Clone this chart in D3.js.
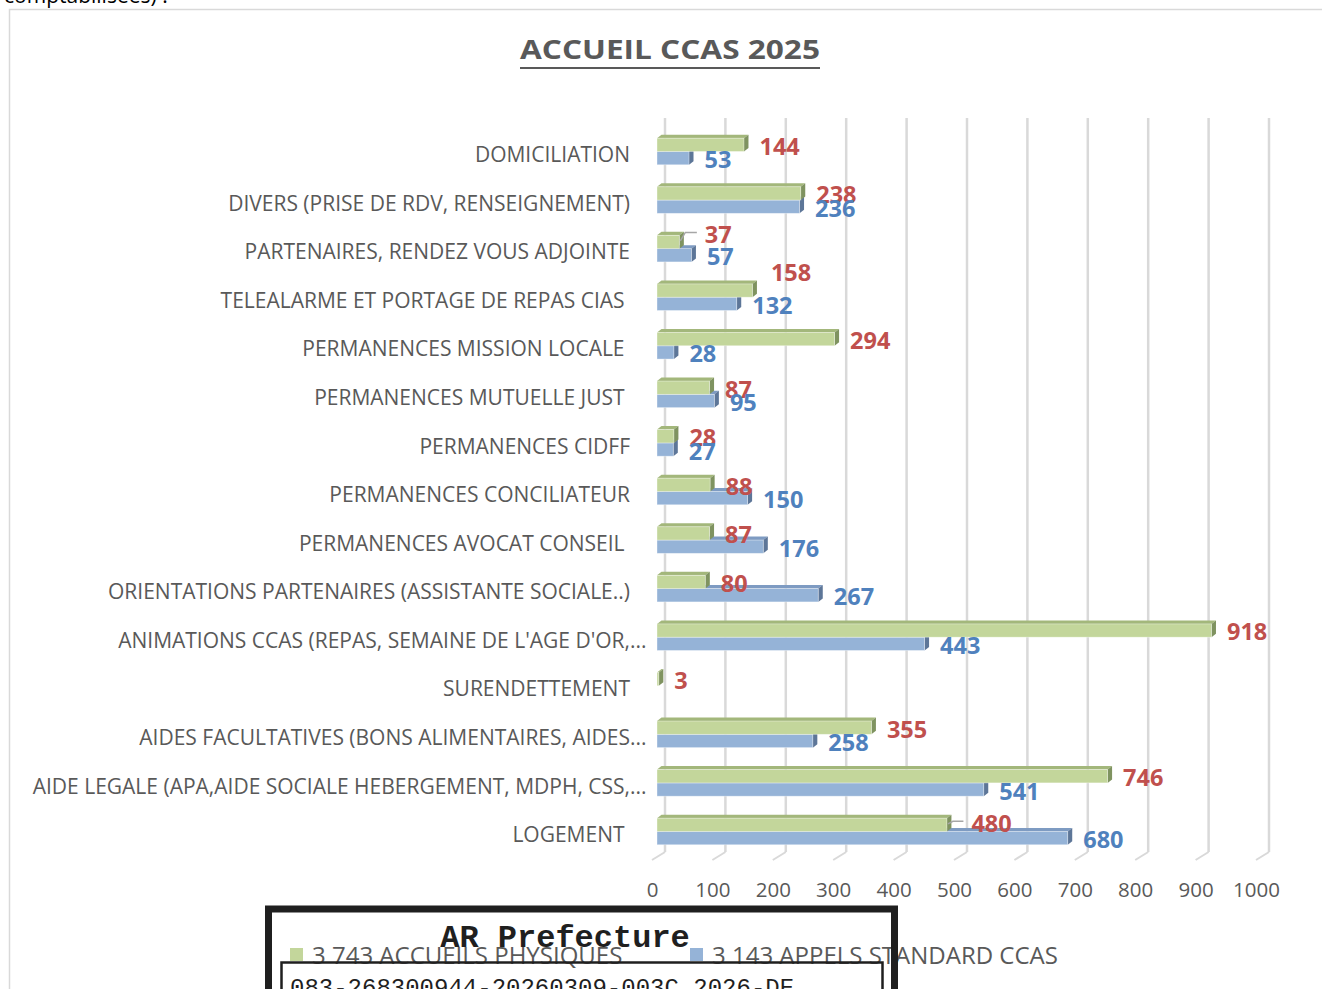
<!DOCTYPE html>
<html>
<head>
<meta charset="utf-8">
<script src="https://cdn.jsdelivr.net/npm/d3@7"></script>
<style>
  html, body { margin: 0; padding: 0; background: #fff; }
  svg { display: block; }
  text { font-family: "Open Sans", Lato, "Liberation Sans", sans-serif; }
</style>
</head>
<body>
<svg id="chart" width="1322" height="989"></svg>
<script>
// ---------------- DATA ----------------
const categories = [
  "DOMICILIATION",
  "DIVERS (PRISE DE RDV, RENSEIGNEMENT)",
  "PARTENAIRES, RENDEZ VOUS ADJOINTE",
  "TELEALARME ET PORTAGE DE REPAS CIAS ",
  "PERMANENCES MISSION LOCALE ",
  "PERMANENCES MUTUELLE JUST ",
  "PERMANENCES CIDFF",
  "PERMANENCES CONCILIATEUR",
  "PERMANENCES AVOCAT CONSEIL ",
  "ORIENTATIONS PARTENAIRES (ASSISTANTE SOCIALE..)",
  "ANIMATIONS CCAS (REPAS, SEMAINE DE L'AGE D'OR,...",
  "SURENDETTEMENT",
  "AIDES FACULTATIVES (BONS ALIMENTAIRES, AIDES...",
  "AIDE LEGALE (APA,AIDE SOCIALE HEBERGEMENT, MDPH, CSS,...",
  "LOGEMENT "
];
const accueilsPhysiques = [144, 238, 37, 158, 294, 87, 28, 88, 87, 80, 918, 3, 355, 746, 480];
const appelsStandard    = [53, 236, 57, 132, 28, 95, 27, 150, 176, 267, 443, null, 258, 541, 680];
const seriesNames = ["3 743 ACCUEILS PHYSIQUES", "3 143 APPELS STANDARD CCAS"];
const xTicks = [0, 100, 200, 300, 400, 500, 600, 700, 800, 900, 1000];
const chartTitle = "ACCUEIL CCAS 2025";

// ---------------- LAYOUT / STYLE ----------------
const svg = d3.select("#chart");
const grey = "#595959";
const gridCol = "#d9d9d9";
const font = "'Open Sans', Lato, sans-serif";
const catFont = 21;
const styles = [
  { front: "#C3D69B", top: "#A3B77B", side: "#7F9360", label: "#C0504D" },
  { front: "#95B3D7", top: "#7E9BC2", side: "#5D7698", label: "#4F81BD" }
];
// manual label nudges (as placed in the original), keyed by series-index/category-index
const labelNudges = { "0-2": { dx: 10, dy: -9, leader: true },
                      "0-3": { dx: 3, dy: -20, leader: false },
                      "0-14": { dx: 9, dy: -3, leader: true } };

const xFront = d3.scaleLinear().domain([0, 1000]).range([657, 1261]);
const xBack  = d3.scaleLinear().domain([0, 1000]).range([665, 1269]);
const xFloor = d3.scaleLinear().domain([0, 1000]).range([652, 1256]);
const pitch = 48.57;
const y = d3.scaleBand().domain(categories).range([127.2, 127.2 + categories.length * pitch]).padding(0);
const barH = 13.3, dX = 4.5, dY = 3.5;

// top clipped text from surrounding document
svg.append("text").attr("x", 4).attr("y", 3).attr("font-size", 21)
  .attr("fill", "#000").style("font-family", font).text("comptabilisées) :");

// chart frame
svg.append("rect").attr("x", 9.5).attr("y", 9.5).attr("width", 1340).attr("height", 1000)
  .attr("fill", "#fff").attr("stroke", "#d9d9d9").attr("stroke-width", 1.5);

// title
svg.append("text").attr("x", 670).attr("y", 59).attr("text-anchor", "middle")
  .attr("font-size", 27).attr("font-weight", "bold").attr("fill", grey)
  .attr("textLength", 300).attr("lengthAdjust", "spacingAndGlyphs").text(chartTitle);
svg.append("line").attr("x1", 520).attr("x2", 820).attr("y1", 68).attr("y2", 68)
  .attr("stroke", grey).attr("stroke-width", 2.2);

// back-wall gridlines
svg.append("g").selectAll("line").data(xTicks).join("line")
  .attr("x1", d => xBack(d)).attr("x2", d => xBack(d)).attr("y1", 118).attr("y2", 852)
  .attr("stroke", gridCol).attr("stroke-width", 2.5);
// floor ticks
svg.append("g").selectAll("line").data(xTicks).join("line")
  .attr("x1", d => xFloor(d)).attr("y1", 860).attr("x2", d => xBack(d)).attr("y2", 852)
  .attr("stroke", gridCol).attr("stroke-width", 2);

// x axis labels
const xAxis = svg.append("g").attr("transform", "translate(0,890)")
  .call(d3.axisBottom(xFloor).tickValues(xTicks).tickSize(0).tickPadding(0).tickFormat(d3.format("d")));
xAxis.select(".domain").remove();
xAxis.selectAll("text").attr("y", 0).attr("dy", "0.36em").attr("font-size", 20.5)
  .attr("fill", grey).style("font-family", font);

// y axis labels
const yAxis = svg.append("g").attr("transform", "translate(630,4)")
  .call(d3.axisLeft(y).tickSize(0).tickPadding(0));
yAxis.select(".domain").remove();
yAxis.selectAll("text").attr("font-size", catFont).attr("fill", grey)
  .attr("xml:space", "preserve").style("white-space", "pre")
  .style("font-family", font)
  .attr("x", function (d) {
    if (d.endsWith("...")) {
      const tmp = svg.append("text").attr("font-size", catFont).style("font-family", font).text("...");
      const w = tmp.node().getComputedTextLength(); tmp.remove();
      return w;
    }
    return 0;
  });

// bars
const seriesData = [accueilsPhysiques, appelsStandard];
const barsG = svg.append("g");
function barPaths(v, yTop) {
  const x0 = xFront(0), x1 = xFront(v);
  return {
    top: [[x0, yTop], [x1, yTop], [x1 + dX, yTop - dY], [x0 + dX, yTop - dY]],
    side: [[x1, yTop], [x1 + dX, yTop - dY], [x1 + dX, yTop + barH - dY], [x1, yTop + barH]],
    front: { x: x0, y: yTop, w: x1 - x0 }
  };
}
categories.forEach((c, ci) => {
  const center = y(c) + y.bandwidth() / 2;
  // draw blue (lower) first, then green on top
  [1, 0].forEach(si => {
    const v = seriesData[si][ci];
    if (v == null) return;
    const yTop = center - barH + si * barH;
    const p = barPaths(v, yTop);
    const st = styles[si];
    barsG.append("polygon").attr("points", p.top.map(d => d.join(",")).join(" ")).attr("fill", st.top);
    barsG.append("polygon").attr("points", p.side.map(d => d.join(",")).join(" ")).attr("fill", st.side);
    barsG.append("rect").attr("x", p.front.x).attr("y", yTop).attr("width", Math.max(p.front.w, 0.8))
      .attr("height", barH).attr("fill", st.front).attr("stroke", "rgba(255,255,255,0.45)").attr("stroke-width", 0.8);
  });
});

// data labels
const labelsG = svg.append("g");
categories.forEach((c, ci) => {
  const center = y(c) + y.bandwidth() / 2;
  [0, 1].forEach(si => {
    const v = seriesData[si][ci];
    if (v == null) return;
    const barCenter = center - barH / 2 + si * barH;
    const n = labelNudges[si + "-" + ci] || { dx: 0, dy: 0, leader: false };
    const lx = xFront(v) + dX + 11 + n.dx;
    const ly = barCenter + 1.5 + n.dy;
    if (n.leader) {
      labelsG.append("polyline")
        .attr("points", [[xFront(v) + 1, barCenter - 1], [xFront(v) + 6, ly - 2], [lx - 8, ly - 2]].map(d => d.join(",")).join(" "))
        .attr("fill", "none").attr("stroke", "#a6a6a6").attr("stroke-width", 1.5);
    }
    labelsG.append("text").attr("x", lx).attr("y", ly).attr("dy", "0.36em")
      .attr("font-size", 23.5).attr("font-weight", "bold").attr("fill", styles[si].label).text(v);
  });
});

// legend
const legendX = [290, 690];
const legend = svg.append("g");
seriesNames.forEach((name, i) => {
  legend.append("rect").attr("x", legendX[i]).attr("y", 948).attr("width", 13).attr("height", 13)
    .attr("fill", styles[i].front);
  legend.append("text").attr("x", legendX[i] + 22).attr("y", 955).attr("dy", "0.36em")
    .attr("font-size", 24).attr("fill", grey).text(name);
});

// AR Prefecture stamp overlay
const stamp = svg.append("g");
stamp.append("rect").attr("x", 268.5).attr("y", 909).attr("width", 626).attr("height", 120)
  .attr("fill", "none").attr("stroke", "#1f1f1f").attr("stroke-width", 7);
stamp.append("rect").attr("x", 281.5).attr("y", 962.5).attr("width", 601).attr("height", 80)
  .attr("fill", "none").attr("stroke", "#1f1f1f").attr("stroke-width", 2.5);
stamp.append("text").attr("x", 565).attr("y", 947).attr("text-anchor", "middle")
  .attr("font-size", 32).attr("font-weight", "bold").attr("fill", "#1f1f1f")
  .style("font-family", "'Liberation Mono', 'DejaVu Sans Mono', monospace").text("AR Prefecture");
stamp.append("text").attr("x", 290).attr("y", 995)
  .attr("font-size", 24).attr("fill", "#1f1f1f")
  .style("font-family", "'Liberation Mono', 'DejaVu Sans Mono', monospace").text("083-268300944-20260309-003C 2026-DE");
</script>
</body>
</html>
